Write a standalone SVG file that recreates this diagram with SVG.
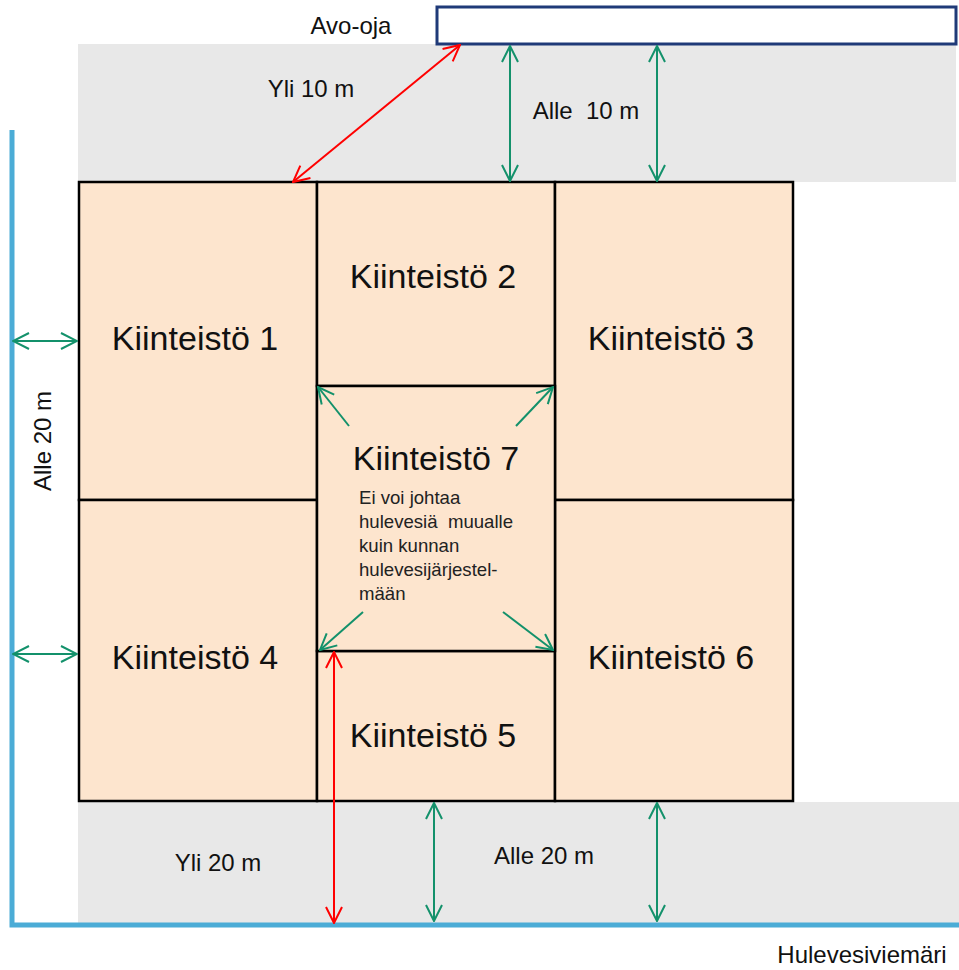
<svg xmlns="http://www.w3.org/2000/svg" width="959" height="970" viewBox="0 0 959 970">
<style>
.band{fill:#E8E8E8}
.lot{fill:#FDE5CE;stroke:#000;stroke-width:2.5}
.big{font-family:"Liberation Sans",Arial,sans-serif;font-size:34px;fill:#111;text-anchor:middle}
.lbl{font-family:"Liberation Sans",Arial,sans-serif;font-size:24px;fill:#111}
.small{font-family:"Liberation Sans",Arial,sans-serif;font-size:18.6px;fill:#222}
.g{stroke:#13916B;stroke-width:2;fill:none;marker-end:url(#ag)}
.g2{stroke:#13916B;stroke-width:2;fill:none;marker-start:url(#ag);marker-end:url(#ag)}
.r2{stroke:#FF0000;stroke-width:2;fill:none;marker-start:url(#ar);marker-end:url(#ar)}
.pipe{stroke:#4BACD6;stroke-width:5;fill:none}
</style>
<defs>
<marker id="ag" viewBox="0 0 18 18" refX="17" refY="9" markerWidth="18" markerHeight="18" markerUnits="userSpaceOnUse" orient="auto-start-reverse">
<path d="M1,1 L17,9 L1,17" fill="none" stroke="#13916B" stroke-width="2"/>
</marker>
<marker id="ar" viewBox="0 0 18 18" refX="17" refY="9" markerWidth="18" markerHeight="18" markerUnits="userSpaceOnUse" orient="auto-start-reverse">
<path d="M1,1 L17,9 L1,17" fill="none" stroke="#FF0000" stroke-width="2"/>
</marker>
</defs>
<rect width="959" height="970" fill="#fff"/>
<g id="bands">
<rect class="band" x="78" y="44" width="878" height="138"/>
<rect class="band" x="78" y="802" width="881" height="121"/>
</g>
<g id="avo-oja">
<rect x="437" y="7" width="519" height="37" fill="#fff" stroke="#1F3A78" stroke-width="3"/>
<text class="lbl" x="351" y="34" text-anchor="middle">Avo-oja</text>
</g>
<g id="hulevesiviemari">
<path class="pipe" d="M12,130 L12,925 L959,925"/>
<text class="lbl" x="862" y="963" text-anchor="middle">Hulevesiviemäri</text>
</g>
<g id="k1"><rect class="lot" x="79" y="182" width="238" height="318"/><text class="big" x="195" y="350">Kiinteistö 1</text></g>
<g id="k2"><rect class="lot" x="317" y="182" width="238" height="204"/><text class="big" x="433" y="288">Kiinteistö 2</text></g>
<g id="k3"><rect class="lot" x="555" y="182" width="238" height="318"/><text class="big" x="671" y="350">Kiinteistö 3</text></g>
<g id="k4"><rect class="lot" x="79" y="500" width="238" height="301"/><text class="big" x="195" y="669">Kiinteistö 4</text></g>
<g id="k5"><rect class="lot" x="317" y="651" width="238" height="150"/><text class="big" x="433" y="747">Kiinteistö 5</text></g>
<g id="k6"><rect class="lot" x="555" y="500" width="238" height="301"/><text class="big" x="671" y="669">Kiinteistö 6</text></g>
<g id="k7"><rect class="lot" x="317" y="386" width="238" height="265"/><text class="big" x="436" y="470">Kiinteistö 7</text>
<text class="small" x="359" y="504">Ei voi johtaa</text>
<text class="small" x="359" y="528" xml:space="preserve">hulevesiä  muualle</text>
<text class="small" x="359" y="552">kuin kunnan</text>
<text class="small" x="359" y="576">hulevesijärjestel-</text>
<text class="small" x="359" y="600">mään</text>
</g>
<g id="connectors">
<line class="r2" x1="293" y1="182" x2="460" y2="45"/>
<line class="g2" x1="510" y1="46" x2="510" y2="181"/>
<line class="g2" x1="657" y1="46" x2="657" y2="181"/>
<line class="g2" x1="13" y1="341" x2="77" y2="341"/>
<line class="g2" x1="13" y1="654" x2="77" y2="654"/>
<line class="g" x1="349" y1="426" x2="318" y2="387"/>
<line class="g" x1="516" y1="426" x2="553" y2="387"/>
<line class="g" x1="363" y1="612" x2="320" y2="650"/>
<line class="g" x1="503" y1="612" x2="553" y2="650"/>
<line class="r2" x1="334" y1="652" x2="334" y2="923"/>
<line class="g2" x1="434" y1="803" x2="434" y2="921"/>
<line class="g2" x1="657" y1="803" x2="657" y2="921"/>
</g>
<g id="labels">
<text class="lbl" x="311" y="97" text-anchor="middle">Yli 10 m</text>
<text class="lbl" x="586" y="119" text-anchor="middle" xml:space="preserve">Alle  10 m</text>
<text class="lbl" x="0" y="0" text-anchor="middle" transform="translate(51,441) rotate(-90)">Alle 20 m</text>
<text class="lbl" x="218" y="871" text-anchor="middle">Yli 20 m</text>
<text class="lbl" x="544" y="864" text-anchor="middle">Alle 20 m</text>
</g>
</svg>
